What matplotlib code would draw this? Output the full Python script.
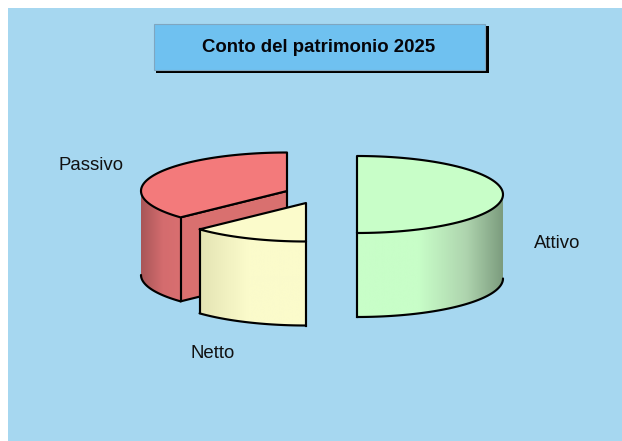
"""Conto del patrimonio: exploded 3D pie drawn by hand."""

import matplotlib
matplotlib.use("Agg")
import matplotlib.pyplot as plt
import numpy as np
from matplotlib.colors import LinearSegmentedColormap
from matplotlib.patches import Polygon, Rectangle

plt.rcParams["font.family"] = ["Liberation Sans", "DejaVu Sans"]

TITLE = "Conto del patrimonio 2025"
labels = ["Attivo", "Passivo", "Netto"]
values = [50, 37, 13]

# slice look, same order as labels
top_colors = ["#c8fec8", "#f37a7b", "#fbfbcb"]
inner_colors = ["#c8fec8", "#d9706f", "#fbfbcb"]
wall_stops = [
    [(0.0, "#c8fec8"), (0.42, "#c8fec8"), (0.75, "#aed4ae"), (1.0, "#7c9c7e")],
    [(0.0, "#a85658"), (0.55, "#d46c6e"), (1.0, "#d96f70")],
    [(0.0, "#e4e4b4"), (0.45, "#fbfbcb"), (1.0, "#fbfbcb")],
]
centers = [(357, 194.5), (287, 191), (306, 203)]
label_pos = [(534, 243), (59, 165), (190, 353)]

RX, RY, DEPTH = 146, 38.5, 84
LW = 1.55


def arc(cx, cy, a0, a1, drop=0.0, n=80):
    # angles run counter-clockwise on screen from 12 o'clock
    t = np.radians(np.linspace(a0, a1, n))
    return np.column_stack([cx - RX * np.sin(t), cy - RY * np.cos(t) + drop])


def draw_slice(ax, cx, cy, a0, a1, top, inner, stops):
    top_arc = arc(cx, cy, a0, a1)
    centre = np.array([cx, cy])

    # radial face, only seen when the slice ends on the front left
    if 90 < a1 < 180:
        end = top_arc[-1]
        face = [centre, end, end + (0, DEPTH), centre + (0, DEPTH)]
        ax.add_patch(Polygon(face, fc=inner, ec="black", lw=LW, joinstyle="round", zorder=2))

    # outer wall is the part of the arc on the front half
    w0, w1 = max(a0, 90), min(a1, 270)
    wall_top = arc(cx, cy, w0, w1)
    wall_bot = arc(cx, cy, w0, w1, drop=DEPTH)
    outline = np.vstack([wall_top, wall_bot[::-1]])
    x0, x1 = outline[:, 0].min(), outline[:, 0].max()
    y0, y1 = outline[:, 1].min(), outline[:, 1].max()
    clip = Polygon(outline, closed=True, fc="none", ec="none")
    ax.add_patch(clip)
    cmap = LinearSegmentedColormap.from_list("wall", stops)
    im = ax.imshow(np.linspace(0, 1, 256)[None, :], cmap=cmap, aspect="auto",
                   extent=[x0, x1, y1, y0], zorder=2)
    im.set_clip_path(clip)
    ax.plot(wall_bot[:, 0], wall_bot[:, 1], color="black", lw=LW, zorder=3,
            solid_capstyle="round")

    # vertical edges where the wall stops at a corner of the slice
    for a in (w0, w1):
        if a in (a0, a1) and a != 90 and a != 270:
            edge = arc(cx, cy, a, a, n=1)[0]
            ax.plot([edge[0]] * 2, [edge[1], edge[1] + DEPTH], color="black", lw=LW, zorder=3)

    # top surface
    pts = np.vstack([centre, top_arc])
    ax.add_patch(Polygon(pts, closed=True, fc=top, ec="black", lw=LW, joinstyle="round", zorder=3))


def main():
    fig = plt.figure(figsize=(6.22, 4.41), dpi=100, facecolor="white")
    ax = fig.add_axes([0, 0, 1, 1])
    ax.set_axis_off()

    ax.add_patch(Rectangle((8, 8), 614, 433, fc="#a6d7f0", ec="none", zorder=0))

    # title box with hard shadow
    ax.add_patch(Rectangle((156, 26), 332.5, 47, fc="black", ec="none", zorder=1))
    ax.add_patch(Rectangle((153.5, 23.5), 331.5, 46.5, fc="#6fc1f0", ec="#7fa6c0", lw=0.8, zorder=2))
    ax.text(319, 47, TITLE, ha="center", va="center", fontsize=13.4,
            fontweight="bold", color="#05050a", zorder=3)

    # Attivo runs clockwise from 12 o'clock, the others counter-clockwise
    spans = []
    start = 0.0
    for i, v in enumerate(values):
        sweep = v / sum(values) * 360
        if i == 0:
            spans.append((360 - sweep, 360))
        else:
            spans.append((start, start + sweep))
            start += sweep

    for i in (1, 2, 0):
        cx, cy = centers[i]
        draw_slice(ax, cx, cy, spans[i][0], spans[i][1], top_colors[i], inner_colors[i], wall_stops[i])

    for name, (x, y) in zip(labels, label_pos):
        ax.text(x, y, name, ha="left", va="center", fontsize=13.4, color="#111111", zorder=4)

    ax.set_xlim(0, 622)
    ax.set_ylim(441, 0)
    fig.savefig("out.png", dpi=100, facecolor="white")
    plt.close(fig)


main()
